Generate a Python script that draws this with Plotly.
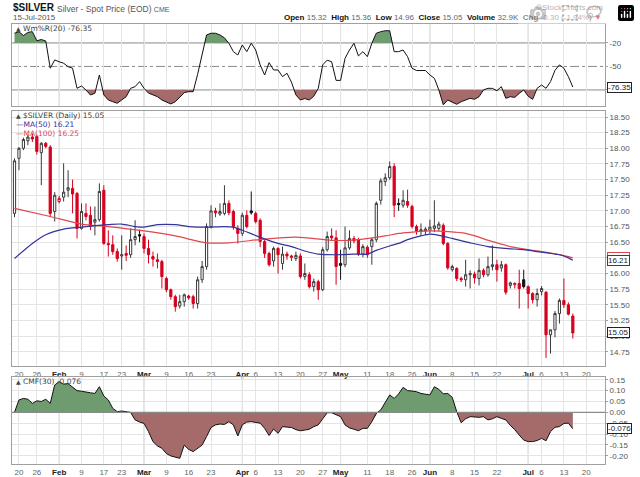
import pandas as pd
import plotly.graph_objects as go

# ---------------- calendar (trading days) ----------------
holidays = ["2015-01-19", "2015-02-16", "2015-05-25"]
axis_days = [d.strftime("%Y-%m-%d") for d in pd.bdate_range("2015-01-16", "2015-07-24")
             if d.strftime("%Y-%m-%d") not in holidays]
dates = [d for d in axis_days if d <= "2015-07-15"]

# ---------------- price data ----------------
open_ = [16.96, 17.84, 18.00, 18.12, 18.18, 18.19, 17.93, 18.08, 18.02, 16.99,
         17.15, 17.22, 17.33, 17.36, 17.28, 16.72, 16.96, 16.93, 16.82, 16.86,
         17.33, 16.48, 16.46, 16.35, 16.28, 16.32, 16.30, 16.54, 16.62, 16.59,
         16.40, 16.27, 16.22, 16.19, 15.92, 15.74, 15.63, 15.48, 15.55, 15.64,
         15.63, 15.52, 15.90, 16.11, 16.75, 17.00, 16.95, 16.96, 17.12, 16.99,
         16.72, 16.64, 16.93, 17.00, 16.96, 16.85, 16.51, 16.32, 16.20, 16.40,
         16.16, 16.31, 16.28, 16.24, 16.28, 15.95, 15.98, 15.79, 15.87, 15.74,
         16.38, 16.60, 16.57, 16.16, 16.14, 16.41, 16.56, 16.54, 16.31, 16.42,
         16.43, 16.54, 17.17, 17.47, 17.53, 17.71, 17.12, 17.09, 17.15, 17.07,
         16.75, 16.67, 16.68, 16.69, 16.72, 16.72, 16.77, 16.48, 16.06, 16.08,
         15.92, 15.90, 15.98, 15.99, 15.92, 16.05, 15.98, 16.11, 16.14, 16.09,
         16.14, 15.81, 15.82, 15.84, 15.90, 15.79, 15.68, 15.58, 15.71, 15.70,
         15.02, 15.10, 15.36, 15.57, 15.50, 15.32]
high = [17.84, 18.02, 18.17, 18.22, 18.24, 18.22, 18.10, 18.10, 18.05, 17.30,
        17.24, 17.76, 17.65, 17.50, 17.30, 17.12, 17.12, 17.07, 17.07, 17.44,
        17.41, 16.69, 16.61, 16.40, 16.61, 16.45, 16.72, 16.85, 16.70, 16.64,
        16.54, 16.35, 16.32, 16.22, 15.95, 15.76, 15.66, 15.66, 15.68, 15.66,
        15.66, 15.95, 16.20, 16.80, 17.09, 17.05, 17.12, 17.41, 17.17, 17.02,
        16.77, 16.97, 17.01, 17.31, 16.99, 16.88, 16.54, 16.35, 16.43, 16.42,
        16.43, 16.35, 16.30, 16.35, 16.32, 16.16, 16.02, 15.92, 15.90, 16.42,
        16.67, 16.72, 16.69, 16.38, 16.75, 16.69, 16.60, 16.57, 16.47, 16.45,
        16.57, 17.15, 17.52, 17.60, 17.79, 17.76, 17.20, 17.33, 17.34, 17.10,
        16.78, 16.80, 16.74, 16.86, 17.17, 16.83, 16.80, 16.50, 16.14, 16.10,
        15.95, 16.22, 16.05, 16.03, 16.24, 16.08, 16.27, 16.45, 16.22, 16.20,
        16.16, 15.87, 15.86, 16.06, 16.06, 15.81, 15.70, 15.76, 15.80, 15.72,
        15.10, 15.40, 15.60, 15.92, 15.54, 15.36]
low = [16.90, 17.65, 17.97, 18.05, 18.10, 17.90, 17.41, 18.00, 16.90, 16.83,
       17.12, 17.15, 17.22, 16.96, 16.56, 16.70, 16.85, 16.69, 16.61, 16.83,
       16.46, 16.27, 16.30, 16.19, 16.06, 16.20, 16.25, 16.45, 16.50, 16.32,
       16.16, 16.11, 16.08, 15.76, 15.70, 15.58, 15.39, 15.44, 15.47, 15.58,
       15.44, 15.44, 15.85, 16.06, 16.72, 16.90, 16.92, 16.93, 16.93, 16.70,
       16.48, 16.60, 16.72, 16.94, 16.80, 16.42, 16.25, 16.11, 16.11, 16.00,
       16.06, 16.22, 16.20, 16.20, 15.92, 15.90, 15.76, 15.71, 15.58, 15.72,
       16.35, 16.52, 15.82, 15.90, 16.10, 16.38, 16.48, 16.28, 16.26, 16.25,
       16.14, 16.50, 17.10, 17.40, 17.50, 16.90, 17.00, 17.05, 17.05, 16.72,
       16.62, 16.60, 16.62, 16.64, 16.66, 16.68, 16.45, 16.06, 16.03, 15.88,
       15.86, 15.79, 15.76, 15.84, 15.81, 15.94, 15.95, 16.05, 15.87, 16.03,
       15.66, 15.76, 15.76, 15.44, 15.76, 15.44, 15.52, 15.47, 15.65, 14.65,
       14.72, 14.98, 15.20, 15.45, 15.33, 14.96]
close = [17.80, 18.00, 18.14, 18.18, 18.15, 17.95, 18.08, 18.03, 16.96, 17.25,
         17.20, 17.30, 17.37, 17.27, 16.72, 16.99, 16.91, 16.75, 16.86, 17.31,
         16.48, 16.46, 16.35, 16.24, 16.30, 16.29, 16.54, 16.59, 16.60, 16.40,
         16.30, 16.23, 16.19, 15.95, 15.74, 15.63, 15.47, 15.55, 15.66, 15.61,
         15.52, 15.90, 16.11, 16.75, 17.00, 16.97, 16.99, 17.12, 16.97, 16.75,
         16.64, 16.93, 16.75, 16.97, 16.83, 16.51, 16.32, 16.14, 16.40, 16.30,
         16.31, 16.28, 16.26, 16.29, 15.95, 16.00, 15.79, 15.87, 15.74, 16.38,
         16.59, 16.57, 16.11, 16.13, 16.41, 16.56, 16.52, 16.31, 16.43, 16.30,
         16.54, 17.12, 17.48, 17.53, 17.71, 17.09, 17.10, 17.17, 17.09, 16.75,
         16.68, 16.70, 16.71, 16.74, 16.76, 16.79, 16.48, 16.09, 16.11, 15.92,
         15.90, 15.98, 16.00, 15.93, 16.05, 15.98, 16.11, 16.14, 16.06, 16.14,
         15.70, 15.85, 15.84, 15.76, 15.79, 15.68, 15.58, 15.68, 15.76, 15.02,
         15.10, 15.36, 15.57, 15.50, 15.35, 15.05]

# moving averages (read at sample dates)
ma50_dates = ["2015-01-16", "2015-01-23", "2015-01-28", "2015-02-03", "2015-02-09", "2015-02-18",
              "2015-02-23", "2015-02-26", "2015-03-02", "2015-03-05", "2015-03-11", "2015-03-16",
              "2015-03-20", "2015-03-26", "2015-03-30", "2015-04-01", "2015-04-07", "2015-04-13",
              "2015-04-16", "2015-04-21", "2015-04-24", "2015-05-01", "2015-05-06", "2015-05-11",
              "2015-05-13", "2015-05-18", "2015-05-20", "2015-05-22", "2015-05-28", "2015-06-01",
              "2015-06-03", "2015-06-08", "2015-06-12", "2015-06-18", "2015-06-24", "2015-06-30",
              "2015-07-03", "2015-07-10", "2015-07-14", "2015-07-15"]
ma50_vals = [16.24, 16.48, 16.62, 16.71, 16.74, 16.78, 16.79, 16.75, 16.74, 16.78,
             16.78, 16.75, 16.74, 16.75, 16.74, 16.69, 16.58, 16.48, 16.43, 16.36,
             16.31, 16.30, 16.31, 16.31, 16.37, 16.44, 16.48, 16.54, 16.60, 16.63,
             16.61, 16.56, 16.49, 16.43, 16.40, 16.38, 16.35, 16.30, 16.25, 16.21]
ma100_dates = ["2015-01-16", "2015-01-29", "2015-02-09", "2015-02-18", "2015-03-02", "2015-03-11",
               "2015-03-20", "2015-03-27", "2015-04-08", "2015-04-17", "2015-04-29", "2015-05-05",
               "2015-05-08", "2015-05-15", "2015-05-20", "2015-05-26", "2015-06-01", "2015-06-05",
               "2015-06-11", "2015-06-19", "2015-06-25", "2015-07-01", "2015-07-06", "2015-07-10",
               "2015-07-15"]
ma100_vals = [17.04, 16.91, 16.79, 16.75, 16.68, 16.60, 16.49, 16.49, 16.55, 16.58,
              16.53, 16.53, 16.55, 16.60, 16.64, 16.66, 16.68, 16.67, 16.64, 16.51,
              16.43, 16.38, 16.35, 16.30, 16.25]

# Williams %R (20), daily
wr = [-7.6, -5.6, -10.6, -6.5, -5.6, -17.2, -15.6, -17.5, -52.3, -41.7,
      -44.0, -45.9, -50.3, -52.3, -77.9, -75.0, -80.0, -86.4, -84.3, -60.9,
      -86.4, -92.8, -95.0, -97.0, -92.8, -88.6, -77.9, -75.8, -69.4, -77.9,
      -84.0, -86.4, -88.6, -92.8, -95.0, -97.9, -95.0, -88.6, -83.4, -82.2,
      -82.2, -60.0, -33.2, -9.8, -7.6, -7.6, -9.8, -13.5, -20.4, -31.1,
      -35.3, -22.6, -31.1, -20.4, -29.0, -48.0, -60.9, -45.1, -54.5, -54.5,
      -63.0, -58.7, -70.0, -86.4, -92.8, -91.0, -92.8, -88.0, -78.0, -48.0,
      -42.0, -44.0, -67.8, -67.8, -39.6, -29.0, -20.4, -36.6, -31.1, -37.5,
      -20.4, -7.6, -5.6, -4.4, -4.4, -31.1, -31.1, -29.0, -37.5, -52.3,
      -55.2, -55.2, -55.2, -60.9, -65.1, -80.0, -99.0, -92.8, -96.0, -98.3,
      -95.0, -93.0, -90.7, -92.0, -88.6, -80.0, -77.9, -78.0, -81.0, -75.8,
      -90.7, -88.6, -89.5, -84.3, -80.0, -88.0, -92.0, -77.9, -73.7, -77.9,
      -69.4, -55.0, -48.0, -52.3, -63.0, -76.35]

# Chaikin Money Flow (30), daily
cmf = [0.000, 0.057, 0.064, 0.060, 0.041, 0.053, 0.050, 0.060, 0.041, 0.126,
       0.141, 0.130, 0.132, 0.118, 0.100, 0.097, 0.095, 0.090, 0.087, 0.118,
       0.075, 0.057, 0.018, 0.003, 0.006, 0.004, -0.001, -0.035, -0.045, -0.051,
       -0.089, -0.135, -0.155, -0.166, -0.190, -0.201, -0.205, -0.212, -0.151, -0.171,
       -0.181, -0.165, -0.151, -0.112, -0.070, -0.058, -0.054, -0.056, -0.043, -0.058,
       -0.109, -0.058, -0.045, -0.043, -0.046, -0.050, -0.074, -0.107, -0.077, -0.097,
       -0.066, -0.068, -0.070, -0.080, -0.085, -0.082, -0.078, -0.066, -0.058, -0.030,
       -0.002, -0.002, -0.010, -0.020, -0.058, -0.072, -0.078, -0.085, -0.074, -0.074,
       -0.043, -0.005, 0.011, 0.049, 0.080, 0.064, 0.085, 0.115, 0.100, 0.098,
       0.095, 0.087, 0.085, 0.080, 0.118, 0.106, 0.085, 0.087, 0.069, 0.003,
       -0.048, -0.030, -0.020, -0.022, -0.023, -0.020, -0.035, -0.030, -0.020, -0.028,
       -0.035, -0.060, -0.080, -0.105, -0.128, -0.135, -0.135, -0.130, -0.120, -0.131,
       -0.089, -0.069, -0.066, -0.051, -0.050, -0.076]

# ---------------- helpers ----------------
W, H = 640, 477
ML, MR = 12, 35
PW = W - ML - MR


def px_x(px):
    return (px - ML) / PW


def px_y(py):
    return 1 - py / H


pos = {d: k for k, d in enumerate(axis_days)}
X = [pos[d] for d in dates]

GREEN_FILL = "#6f9c6f"
RED_FILL = "#a56b6b"
RED = "#d7001f"
NAVY = "#333399"
MARED = "#e0474f"
GRID = "#e4e4e4"
FRAME = "#a0a0a0"
FONT = "Liberation Sans, Arial, sans-serif"


def fill_poly(xs, ys, level, above):
    px, py = [], []
    for k in range(len(xs)):
        x, y = xs[k], ys[k]
        if k > 0:
            x0, y0 = xs[k - 1], ys[k - 1]
            if (y0 - level) * (y - level) < 0:
                t = (level - y0) / (y - y0)
                px.append(x0 + t * (x - x0))
                py.append(level)
        px.append(x)
        py.append(max(y, level) if above else min(y, level))
    px += [xs[-1], xs[0]]
    py += [level, level]
    return px, py


fig = go.Figure()

# ---------------- W%R panel ----------------
for above, col, lvl in [(True, GREEN_FILL, -20), (False, RED_FILL, -80)]:
    fx, fy = fill_poly(X, wr, lvl, above)
    fig.add_trace(go.Scatter(x=fx, y=fy, fill="toself", fillcolor=col, line=dict(width=0),
                             mode="lines", hoverinfo="skip", showlegend=False,
                             xaxis="x", yaxis="y"))
fig.add_trace(go.Scatter(x=X, y=wr, mode="lines", line=dict(color="#111", width=1),
                         hoverinfo="skip", showlegend=False, xaxis="x", yaxis="y"))

# ---------------- price panel ----------------
groups = {}
for k in range(len(dates)):
    o, c = open_[k], close[k]
    pc = close[k - 1] if k > 0 else None
    if c >= o:
        key = "hollow_black" if (pc is None or c >= pc) else "hollow_red"
    else:
        key = "filled_red" if (pc is not None and c < pc) else "filled_black"
    groups.setdefault(key, []).append(k)

styles = {
    "hollow_black": ("#3a3a3a", "white"),
    "hollow_red": (RED, "white"),
    "filled_red": (RED, RED),
    "filled_black": ("#111111", "#111111"),
}
for key, idx in groups.items():
    lc, fc = styles[key]
    fig.add_trace(go.Candlestick(
        x=[X[k] for k in idx], open=[open_[k] for k in idx], high=[high[k] for k in idx],
        low=[low[k] for k in idx], close=[close[k] for k in idx],
        increasing=dict(line=dict(color=lc, width=1), fillcolor=fc),
        decreasing=dict(line=dict(color=lc, width=1), fillcolor=fc),
        whiskerwidth=0, hoverinfo="skip", showlegend=False, xaxis="x2", yaxis="y2"))

fig.add_trace(go.Scatter(x=[pos[d] for d in ma100_dates], y=ma100_vals, mode="lines",
                         line=dict(color=MARED, width=1.2, shape="spline", smoothing=0.8),
                         hoverinfo="skip", showlegend=False, xaxis="x2", yaxis="y2"))
fig.add_trace(go.Scatter(x=[pos[d] for d in ma50_dates], y=ma50_vals, mode="lines",
                         line=dict(color=NAVY, width=1.2, shape="spline", smoothing=0.8),
                         hoverinfo="skip", showlegend=False, xaxis="x2", yaxis="y2"))

# ---------------- CMF panel ----------------
for above, col in [(True, GREEN_FILL), (False, RED_FILL)]:
    fx, fy = fill_poly(X, cmf, 0.0, above)
    fig.add_trace(go.Scatter(x=fx, y=fy, fill="toself", fillcolor=col, line=dict(width=0),
                             mode="lines", hoverinfo="skip", showlegend=False,
                             xaxis="x3", yaxis="y3"))
fig.add_trace(go.Scatter(x=X, y=cmf, mode="lines", line=dict(color="#111", width=1),
                         hoverinfo="skip", showlegend=False, xaxis="x3", yaxis="y3"))

# ---------------- x ticks ----------------
month_pos = [k for k in range(1, len(axis_days))
             if pd.Timestamp(axis_days[k]).month != pd.Timestamp(axis_days[k - 1]).month]
tick_vals, tick_text = [], []
for k in range(1, len(axis_days)):
    ts = pd.Timestamp(axis_days[k])
    tp = pd.Timestamp(axis_days[k - 1])
    if k in month_pos:
        tick_vals.append(k)
        tick_text.append("<b><span style='color:#222'>%s</span></b>" % ts.strftime("%b"))
    elif ts.isocalendar()[1] != tp.isocalendar()[1] and all(abs(k - m) > 2 for m in month_pos):
        tick_vals.append(k)
        tick_text.append(str(ts.day))

xr = [-0.56, 132.2]
xcommon = dict(range=xr, tickvals=tick_vals, ticktext=tick_text, showgrid=True, tickangle=0,
               gridcolor=GRID, gridwidth=1, zeroline=False, showline=True, mirror=True,
               linecolor=FRAME, linewidth=1, ticks="", rangeslider=dict(visible=False),
               tickfont=dict(family=FONT, size=8, color="#666"), fixedrange=True, automargin=False)

d_wr = [px_y(106), px_y(24)]
d_main = [px_y(366), px_y(111)]
d_cmf = [px_y(464), px_y(377)]

ycommon = dict(side="right", showline=True, mirror=True, linecolor=FRAME, linewidth=1,
               ticks="outside", ticklen=2, tickcolor=FRAME, zeroline=False, automargin=False,
               tickfont=dict(family=FONT, size=8, color="#555"), fixedrange=True)

main_ticks = [14.75 + 0.25 * k for k in range(16)]
cmf_ticks = [-0.20 + 0.05 * k for k in range(8)]

fig.update_layout(
    width=W, height=H, margin=dict(l=ML, r=MR, t=0, b=0, autoexpand=False),
    paper_bgcolor="white", plot_bgcolor="white", showlegend=False,
    xaxis=dict(**xcommon, anchor="y", domain=[0, 1], showticklabels=False),
    xaxis2=dict(**xcommon, anchor="y2", domain=[0, 1], matches="x", showticklabels=True),
    xaxis3=dict(**xcommon, anchor="y3", domain=[0, 1], matches="x", showticklabels=True),
    yaxis=dict(**ycommon, domain=d_wr, range=[-100.5, 4.2], showgrid=False,
               tickvals=[-20, -50, -80], ticktext=["-20", "-50", "-80"]),
    yaxis2=dict(**ycommon, domain=d_main, range=[14.522, 18.596], showgrid=True, gridcolor=GRID,
                tickvals=main_ticks, ticktext=["%.2f" % v for v in main_ticks]),
    yaxis3=dict(**ycommon, domain=d_cmf, range=[-0.2382, 0.1627], showgrid=True, gridcolor=GRID,
                tickvals=cmf_ticks, ticktext=["%.2f" % v for v in cmf_ticks]),
)

# reference lines
shapes = []
for lvl, dash in [(-20, "solid"), (-80, "solid"), (-50, "dashdot")]:
    shapes.append(dict(type="line", xref="x domain", yref="y", x0=0, x1=1, y0=lvl, y1=lvl,
                       line=dict(color="#8a8a8a", width=1, dash=dash), layer="below"))
shapes.append(dict(type="line", xref="x3 domain", yref="y3", x0=0, x1=1, y0=0, y1=0,
                   line=dict(color="#8a8a8a", width=1.2), layer="above"))
for mp in month_pos:
    for xa, ya in [("x", "y"), ("x2", "y2"), ("x3", "y3")]:
        shapes.append(dict(type="line", xref=xa, yref=ya + " domain", x0=mp, x1=mp, y0=0, y1=1,
                           line=dict(color="#c4c4c4", width=1), layer="below"))
fig.update_layout(shapes=shapes)

# ---------------- annotations ----------------
ann = []


def text(px, py, s, size=8, color="#333", anchor="left", family=FONT):
    ann.append(dict(x=px_x(px), y=px_y(py), xref="paper", yref="paper", text=s, showarrow=False,
                    xanchor=anchor, yanchor="middle", font=dict(family=family, size=size, color=color)))


text(11, 8, "<b>$SILVER</b>", size=10, color="#111")
text(55, 8.5, "Silver - Spot Price (EOD) <span style='font-size:7px'>CME</span>", size=8.5, color="#555")
text(11, 17.5, "15-Jul-2015", size=8, color="#555")
text(605, 7, "©StockCharts.com", size=8, color="#666", anchor="right")
text(604, 17.5, "<b>Open</b> <span style='color:#666'>15.32</span>  <b>High</b> <span style='color:#666'>15.36</span>"
     "  <b>Low</b> <span style='color:#666'>14.96</span>  <b>Close</b> <span style='color:#666'>15.05</span>"
     "  <b>Volume</b> <span style='color:#666'>32.9K</span>  <b>Chg</b> <span style='color:#666'>-0.30 (-1.94%)</span>"
     " <span style='color:#c00000'>▼</span>", size=8, color="#111", anchor="right")

dv = "DejaVu Sans, Verdana, sans-serif"
text(14, 28.5, "<span style='font-size:6px'>▲</span> Wm%R(20) -76.35", size=7.5, color="#444", family=dv)
text(14, 115.5, "<span style='font-size:6px'>▲</span> $SILVER (Daily) 15.05", size=7.5, color="#444", family=dv)
text(14, 124.5, "—MA(50) 16.21", size=7.5, color=NAVY, family=dv)
text(14, 133.5, "—MA(100) 16.25", size=7.5, color=MARED, family=dv)
text(14, 381.5, "<span style='font-size:6px'>▲</span> CMF(30) -0.076", size=7.5, color="#444", family=dv)


# value tags on right axis
def tag(yref, yval, s, border):
    ann.append(dict(x=1.003, y=yval, xref="paper", yref=yref, text=s, showarrow=False,
                    xanchor="left", yanchor="middle", bgcolor="white", bordercolor=border,
                    borderwidth=1, borderpad=0, font=dict(family=FONT, size=8, color="#222")))


tag("y", -76.35, "-76.35", "#222")
tag("y2", 16.25, "16.25", MARED)
tag("y2", 16.21, "16.21", NAVY)
tag("y2", 15.05, "15.05", "#222")
tag("y3", -0.076, "-0.076", "#222")

fig.update_layout(annotations=ann)

fig.write_html("out.html", post_script="document.body.style.margin='0px';")
